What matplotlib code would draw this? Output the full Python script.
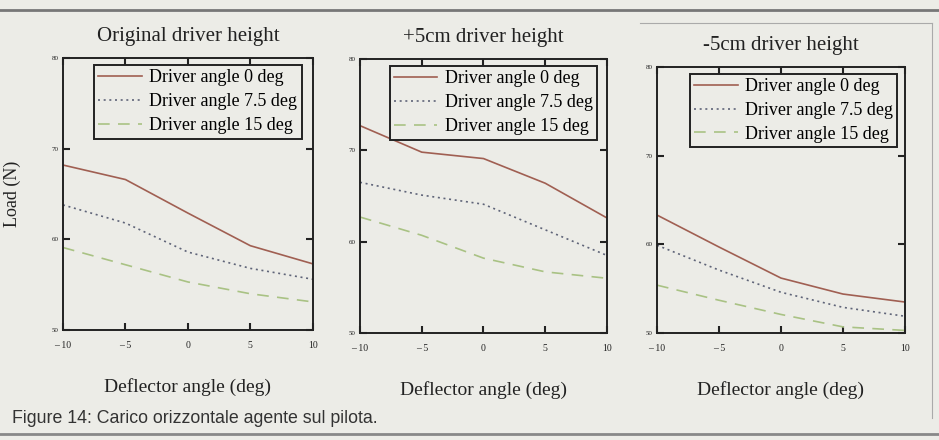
import matplotlib.pyplot as plt
from matplotlib.lines import Line2D

# deflector angle (deg)
deflector = [-10, -5, 0, 5, 10]

titles = ["Original driver height", "+5cm driver height", "-5cm driver height"]
series_names = ["Driver angle 0 deg", "Driver angle 7.5 deg", "Driver angle 15 deg"]

# Load (N)
orig_0 = [68.2, 66.6, 62.9, 59.3, 57.3]
orig_75 = [63.8, 61.8, 58.6, 56.8, 55.6]
orig_15 = [59.1, 57.2, 55.3, 54.0, 53.1]

up_0 = [72.7, 69.8, 69.1, 66.4, 62.6]
up_75 = [66.5, 65.1, 64.1, 61.3, 58.5]
up_15 = [62.7, 60.7, 58.2, 56.7, 56.0]

down_0 = [63.3, 59.7, 56.2, 54.4, 53.5]
down_75 = [59.9, 57.1, 54.6, 52.9, 51.9]
down_15 = [55.4, 53.7, 52.1, 50.7, 50.3]

panels = [
    (orig_0, orig_75, orig_15),
    (up_0, up_75, up_15),
    (down_0, down_75, down_15),
]

xticks = [-10, -5, 0, 5, 10]
xtick_labels = ["\u2013 10", "\u2013 5", "0", "5", "10"]
yticks = [50, 60, 70, 80]

BG = "#ecece7"
colors = ["#a05f52", "#5f6478", "#a9c284"]
styles = ["-", (0, (1.2, 2.2)), (0, (7, 5))]

plt.rcParams["font.family"] = ["Liberation Serif", "DejaVu Serif"]

fig = plt.figure(figsize=(9.39, 4.40), dpi=100, facecolor=BG)

boxes = [
    [0.0671, 0.250, 0.266, 0.618],
    [0.3834, 0.243, 0.263, 0.623],
    [0.6997, 0.243, 0.264, 0.605],
]
legend_right = [0.955, 0.96, 0.97]

for i, (box, data) in enumerate(zip(boxes, panels)):
    ax = fig.add_axes(box)
    ax.set_facecolor(BG)
    for vals, c, ls, name in zip(data, colors, styles, series_names):
        ax.plot(deflector, vals, color=c, linestyle=ls, linewidth=1.2, label=name)
    ax.set_xlim(-10, 10)
    ax.set_ylim(50, 80)
    ax.set_xticks(xticks)
    ax.set_xticklabels(xtick_labels)
    ax.set_yticks(yticks)
    ax.tick_params(direction="in", length=5, width=1.5, top=True, right=True,
                   labelsize=7, colors="#222222", pad=8)
    for lab in ax.get_yticklabels():
        lab.set_fontsize(5)
    ax.tick_params(axis="y", pad=3)
    for sp in ax.spines.values():
        sp.set_linewidth(1.4)
        sp.set_color("#222222")
    ax.set_title(titles[i], fontsize=15, color="#222222", pad=12)
    ax.set_xlabel("Deflector angle (deg)", fontsize=14, color="#222222", labelpad=20)
    if i == 0:
        ax.set_ylabel("Load (N)", fontsize=13, color="#222222")
        ax.yaxis.set_label_coords(-0.17, 0.5)
    leg = ax.legend(loc="upper right", bbox_to_anchor=(legend_right[i], 0.975),
                    fontsize=13, frameon=True, fancybox=False, edgecolor="#222222",
                    facecolor=BG, framealpha=1, handlelength=2.4,
                    borderpad=0.25, labelspacing=0.38, handletextpad=0.4,
                    borderaxespad=0)
    leg.get_frame().set_linewidth(1.4)

fig.text(0.013, 0.05, "Figure 14: Carico orizzontale agente sul pilota.",
         fontsize=12.8, color="#333333", va="center",
         family=["Liberation Sans", "DejaVu Sans"])

# scan page edges
fig.add_artist(Line2D([0, 1], [0.977, 0.977], color="#777777", linewidth=2))
fig.add_artist(Line2D([0, 1], [0.013, 0.013], color="#888888", linewidth=2))
fig.add_artist(Line2D([0.682, 0.993], [0.948, 0.948], color="#aaaaaa", linewidth=0.8))
fig.add_artist(Line2D([0.993, 0.993], [0.948, 0.05], color="#aaaaaa", linewidth=0.8))

fig.savefig("out.png", dpi=100, facecolor=BG)
